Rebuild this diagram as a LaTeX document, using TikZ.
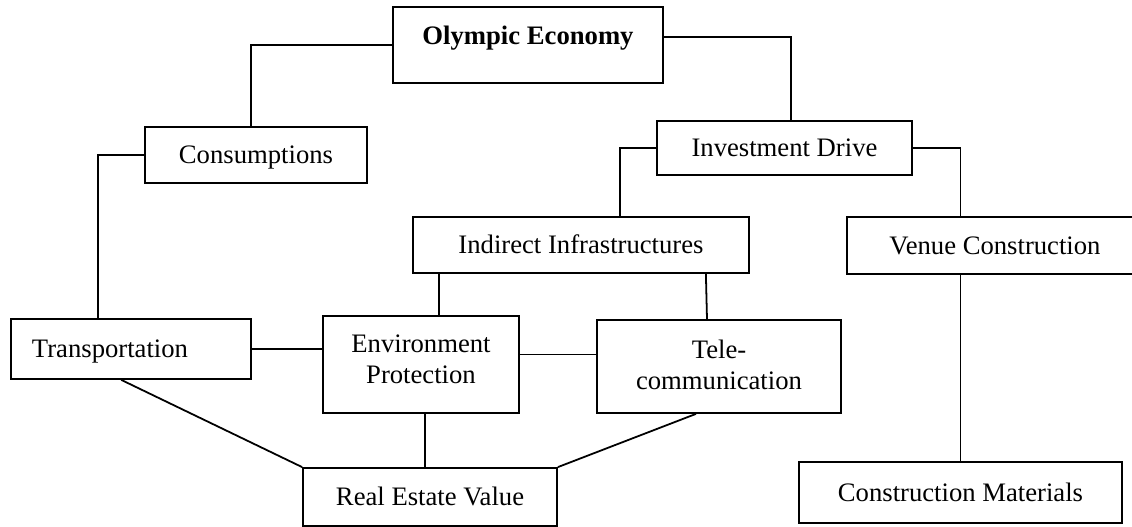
\documentclass[tikz,border=0pt]{standalone}
\usepackage{fontspec}
\setmainfont{Liberation Serif}
\usepackage{tikz}

\begin{document}
\begin{tikzpicture}[x=45pt, y=45pt, line width=0.8pt,
  box/.style={draw, rectangle, inner sep=0pt, align=center,
    font=\fontsize{12}{13.8}\selectfont, text height=8pt, text depth=0pt}]
\useasboundingbox (0,0) rectangle (11.32,-5.27);
\clip (0,0) rectangle (11.32,-5.27);

% Top
\node[box, minimum width=121.5pt, minimum height=34.2pt, text depth=8pt] (olympic) at (5.28,-0.45) {\textbf{Olympic Economy}};

% Second level
\node[box, minimum width=99.9pt, minimum height=25.2pt] (consump) at (2.56,-1.55) {Consumptions};
\node[box, minimum width=114.75pt, minimum height=24.3pt] (invest) at (7.845,-1.48) {Investment Drive};

% Third level
\node[box, minimum width=151.2pt, minimum height=25.2pt] (indirect) at (5.81,-2.45) {Indirect Infrastructures};
\node[box, minimum width=133.2pt, minimum height=25.65pt] (venue) at (9.95,-2.455) {Venue Construction};

% Sectors
\node[box, minimum height=27pt, inner xsep=9.45pt, text width=89.1pt, align=left] (transp) at (1.31,-3.49) {Transportation};
\node[box, minimum width=88.2pt, minimum height=43.65pt, text height=17pt] (env) at (4.21,-3.645) {Environment\\Protection};
\node[box, minimum width=109.8pt, minimum height=41.85pt, text height=20.6pt] (tele) at (7.19,-3.665) {Tele-\\communication};

% Bottom
\node[box, minimum width=114.3pt, minimum height=26.1pt] (realestate) at (4.30,-4.97) {Real Estate Value};
\node[box, minimum width=145.35pt, minimum height=27.45pt] (cmat) at (9.605,-4.925) {Construction Materials};

% Links from the top
\draw (olympic.west) -| ([xshift=-2.2pt]consump.north);
\draw ([yshift=3.6pt]olympic.east) -| ([xshift=2.9pt]invest.north);
\draw (consump.west) -| ([xshift=39.6pt]transp.north west);
\draw (invest.west) -| ([xshift=17.6pt]indirect.north);
\draw (invest.east) -| (cmat.north |- venue.north);
\draw (cmat.north |- venue.south) -- (cmat.north);

% Infrastructure branches
\coordinate (envtop) at ([xshift=8.1pt]env.north);
\draw (envtop |- indirect.south) -- (envtop);
\draw ([xshift=-19.8pt]indirect.south east) -- ([xshift=-5.4pt]tele.north);

% Side links
\coordinate (envright) at ([yshift=4.5pt]env.east);
\draw (transp.east) -- (transp.east -| env.west);
\draw (envright) -- (envright -| tele.west);

% Into real estate
\coordinate (envbot) at ([xshift=1.8pt]env.south);
\draw ([xshift=50pt]transp.south west) -- (realestate.north west);
\draw (envbot) -- (envbot |- realestate.north);
\draw ([xshift=-10.35pt]tele.south) -- (realestate.north east);
\end{tikzpicture}
\end{document}
